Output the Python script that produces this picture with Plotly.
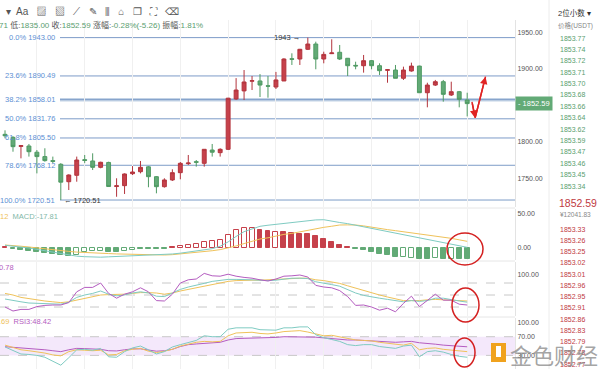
import plotly.graph_objects as go

W, H = 600, 369
FONT = "Liberation Sans, Noto Sans CJK SC, sans-serif"

# ---------------- data ----------------
idx = list(range(59))
opens = [1810.5,1806.4,1794,1794.5,1786,1780,1774.5,1769.5,1745.6,1754.4,1775.8,1774,1765.3,1772,1739,1740.2,1756.6,1759.3,1766,1752.5,
         1738.8,1748,1758,1770.3,1773,1770.8,1789,1785.4,1790,1859,1870,1883.3,1883.6,1877,1875.3,1883.6,1914,1913.7,1927,1934.2,
         1913.7,1921,1922.9,1914.7,1905,1904.5,1911.4,1904.5,1898.2,1898.6,1887.3,1897.3,1904,1867.5,1878,1882.6,1864.4,1868.9,1857.5]
highs = [1816,1808,1795.9,1797.3,1789,1791.4,1780,1771,1755.7,1780,1782.2,1784.5,1773,1773,1750.3,1757,1767,1774,1767,1753.4,
         1750.3,1762.6,1772.6,1782.2,1775.3,1790,1797.3,1791.4,1860.5,1887.5,1898.6,1890.4,1893,1890.4,1896,1914.7,1921.5,1927.5,1943,1937.4,
         1923.7,1940.7,1932.9,1915,1910,1919.2,1912.3,1907.8,1900,1905.5,1903.2,1908.7,1904.5,1881.2,1885,1885,1882.6,1869.9,1867.5]
lows = [1805,1786.7,1777.6,1780,1757,1773,1771,1720.51,1734.2,1745.6,1771,1761.6,1764,1738.8,1725,1728.8,1754.8,1757,1738,1729.7,
        1737.5,1746.6,1748.9,1768.5,1766.2,1766.2,1780,1780,1789,1857.5,1857.5,1871.2,1861.6,1860.7,1872.6,1883.6,1905.5,1905.5,1926,1899.6,
        1907.8,1920.5,1912.3,1890.4,1899.6,1895,1899.6,1891.8,1881.2,1887.3,1885,1896.3,1867.1,1847.5,1876.7,1855.2,1863,1847.5,1835]
closes = [1808.5,1793.6,1795,1786.7,1780,1774.5,1773.5,1745,1754.8,1775.3,1774.8,1765.3,1772.2,1739,1740,1756.2,1758.9,1765.3,1752.5,1738.8,
          1748,1758,1770.8,1771.2,1772.3,1790,1786,1790,1860,1871.2,1882.2,1884,1878,1876.5,1885,1913.7,1913.4,1927,1934.2,1913.7,
          1920,1922,1913.7,1904.5,1904.2,1911.4,1904.5,1897.7,1899,1887.3,1898.6,1904,1867.5,1878,1882.6,1865.3,1868.9,1858.5,1852.59]

fib_ratios = ["0.0%", "23.6%", "38.2%", "50.0%", "61.8%", "78.6%", "100.0%"]
fib_values = [1943.00, 1890.49, 1858.01, 1831.76, 1805.50, 1768.12, 1720.51]
last_price = 1852.59
main_ticks = [1750, 1800, 1900, 1950]

macd_hist = [2,-1,-3,-4,-6,-8,-9,-11,-12,-10,-6,-5,-5,-5.5,-6,-5,-3,-2,-1.5,-1.5,
             -1,1,3,5,6,9,11,12,19,26,29,29,27,25,24,23,22,21,21,18,
             13,9,5,1.5,-2,-3,-6,-9,-11,-13,-13,-14,-16,-16,-15,-16,-16,-16,-16]
macd_hollow = [0,0,0,0,0,0,0,0,0,1,1,1,1,0,0,1,1,0,0,0,
               0,0,1,1,1,1,1,1,1,1,1,1,0,0,1,0,0,0,0,0,
               0,0,0,0,0,0,0,0,0,0,1,1,0,0,1,0,1,0,0]
dif = [4,3,1,0,-2,-4,-6.5,-9,-10.5,-12,-12.8,-13.3,-13.5,-13,-12.6,-12.2,-11.5,-11,-10.7,-10.2,
       -9.8,-8.8,-7.6,-6.2,-4.6,-3,-1,2.6,9,17,24,28,31.9,33.5,34.8,36.2,37.2,39,40.5,41.3,
       41.6,39,37.5,35.8,33.5,31.5,29,26.5,24.5,22,20,17.8,15.5,13,10.8,8.5,5.9,3.5,1]
dea = [4.4,4,2.6,1.5,0,-1.2,-2.5,-3.8,-5,-6,-6.8,-7.3,-7.8,-8.2,-8.7,-9,-9.3,-9.8,-10,-10.2,
       -10.3,-9.8,-8.8,-7.8,-6.8,-5.5,-4,-2.4,0,3,6.5,9.5,13.2,15,18,20,21.5,24,26.5,29,
       30.4,32,33.8,34,33.8,32.5,30.4,28.8,27,25.5,24,22,21,19.5,18.1,16.5,14.2,12,9.8]
macd_ticks = [0, 50]

kdj_k = [40,36,33,30,29,29,27,27,32,44,50,54,60,52,48,50,55,58,55,47,
         46,55,64,70,74,79,84,86,89,89,89,88,87,86,87,89,92,92,91,83,
         80,76,72,63,55,49,45,42,39,36,33,36,34,36,42,42,38,35,32]
kdj_d = [54,50,44,41,37,35,33,31,33,37,41,45,50,51,51,52,54,56,56,55,
         52,55,60,64,68,72,77,81,84,86,87,87,87,88,89,90,92,92,92,88,
         86,82,79,73,67,61,55,50,45,40,36,36,36,38,39,38,37,36,35]
kdj_j = [20,10,14,14,21,24,25,25,31,58,69,69,80,54,42,52,58,68,58,36,
         35,52,80,88,90,104,98,97,102,97,94,92,88,85,90,97,98,100,95,74,
         70,68,61,46,24,25,20,12,17,8,29,47,21,36,52,37,37,27,25]
kdj_levels = [80, 50, 20]

rsi1 = [48,40,33,32,30,26,18,9,25,42,43,41,45,27,26,38,46,50,42,33,
        38,48,53,58,62,72,70,70,86,89,89,89,85,84,84,89,89,91,91,74,
        68,64,60,53,51,53,53,49,47,45,50,52,27,38,40,37,32,28,26]
rsi2 = [52,47,42,40,38,35,31,29,38,42,41,40,41,31,32,40,43,45,39,36,
        39,43,50,54,58,60,59,60,72,78,79.5,79.5,77,76,78,81,82,83,80,76,
        72,73,70,66,63,62,61,58,56,53,52,56,42,45,46,43,41,39.5,38]
rsi3 = [48.6,47.5,46,45,43.5,42,40,38,42,45,44.5,44,43,40,39.5,42,44,44,42,39,
        40,43,49,53,54.5,56,57,58,63,66,66.6,67,67,68,68.5,70,70,70,69.5,69,
        67.5,66,63.5,63,63,62,61,60,59,58,59,60,57,56,54,52,51,50,48.42]
rsi_levels = [70, 30]
rsi_ticks = [30, 70, 100]

book_ask = ["1853.77","1853.74","1853.72","1853.71","1853.70","1853.68","1853.66",
            "1853.64","1853.62","1853.59","1853.47","1853.46","1853.45","1853.34"]
book_bid = ["1853.33","1853.26","1853.25","1853.02","1853.01","1852.96","1852.95",
            "1852.91","1852.86","1852.83","1852.79","1852.78","1852.77"]

# red hand-drawn arrow (index, price)
arrow_pts = [(58.6, 1855.0), (59.0, 1833.0), (60.3, 1889.5)]

# ---------------- colours ----------------
RED = "#c6414b"; RED_L = "#b3343d"
GREEN = "#62aa76"; GREEN_L = "#4f9a63"
TEAL = "#7fcbc2"; YEL = "#efc25a"; PURP = "#b45cc0"
FIB = "#7d9cc8"; FIBTXT = "#5c8fd3"
GRID = "#f0f0f0"; SEP = "#e6e6e6"

def py(px):
    return 1 - px / H

def pxx(px):
    return px / W

XR = [-0.63, 64.0]
XDOM = [0, 515 / W]

fig = go.Figure()

# main candles
fig.add_trace(go.Candlestick(
    x=idx, open=opens, high=highs, low=lows, close=closes,
    increasing=dict(fillcolor=RED, line=dict(color=RED_L, width=1)),
    decreasing=dict(fillcolor=GREEN, line=dict(color=GREEN_L, width=1)),
    whiskerwidth=0, xaxis="x", yaxis="y", showlegend=False, hoverinfo="skip"))

# MACD
fills = []
lines = []
for v, h in zip(macd_hist, macd_hollow):
    c = RED if v >= 0 else GREEN
    lines.append(c)
    fills.append("white" if h else c)
fig.add_trace(go.Bar(x=idx, y=macd_hist, marker=dict(color=fills, line=dict(color=lines, width=1)),
                     width=0.62, xaxis="x2", yaxis="y2", showlegend=False))
fig.add_trace(go.Scatter(x=idx, y=dea, mode="lines", line=dict(color=YEL, width=1), xaxis="x2", yaxis="y2", showlegend=False))
fig.add_trace(go.Scatter(x=idx, y=dif, mode="lines", line=dict(color=TEAL, width=1), xaxis="x2", yaxis="y2", showlegend=False))

# KDJ
fig.add_trace(go.Scatter(x=idx, y=kdj_d, mode="lines", line=dict(color=YEL, width=1), xaxis="x3", yaxis="y3", showlegend=False))
fig.add_trace(go.Scatter(x=idx, y=kdj_k, mode="lines", line=dict(color=TEAL, width=1), xaxis="x3", yaxis="y3", showlegend=False))
fig.add_trace(go.Scatter(x=idx, y=kdj_j, mode="lines", line=dict(color=PURP, width=1), xaxis="x3", yaxis="y3", showlegend=False))

# RSI
fig.add_trace(go.Scatter(x=idx, y=rsi3, mode="lines", line=dict(color=PURP, width=1), xaxis="x4", yaxis="y4", showlegend=False))
fig.add_trace(go.Scatter(x=idx, y=rsi2, mode="lines", line=dict(color=YEL, width=1), xaxis="x4", yaxis="y4", showlegend=False))
fig.add_trace(go.Scatter(x=idx, y=rsi1, mode="lines", line=dict(color=TEAL, width=1), xaxis="x4", yaxis="y4", showlegend=False))

# red arrow line
fig.add_trace(go.Scatter(x=[p[0] for p in arrow_pts], y=[p[1] for p in arrow_pts], mode="lines",
                         line=dict(color="#e02424", width=1.5), xaxis="x", yaxis="y", showlegend=False))

grid_vals = list(range(4, 59, 6))
xcommon = dict(range=XR, domain=XDOM, showticklabels=False, showgrid=True, gridcolor=GRID,
               tickvals=grid_vals, zeroline=False, showline=False, fixedrange=True)
ycommon = dict(side="right", showgrid=False, zeroline=False, tickfont=dict(size=7, color="#555", family=FONT),
               ticks="", tickformat=".2f", showline=True, linecolor="#e3e3e3", linewidth=1)

layout = dict(
    width=W, height=H, margin=dict(l=0, r=0, t=0, b=0),
    paper_bgcolor="white", plot_bgcolor="white", font=dict(family=FONT),
    showlegend=False, bargap=0,
    xaxis=dict(**xcommon, anchor="y", rangeslider=dict(visible=False)),
    xaxis2=dict(**xcommon, anchor="y2"),
    xaxis3=dict(**xcommon, anchor="y3"),
    xaxis4=dict(**xcommon, anchor="y4"),
    yaxis=dict(**ycommon, anchor="x", domain=[py(207), py(20)], range=[1710.96, 1967.12], tickvals=main_ticks),
    yaxis2=dict(**ycommon, anchor="x2", domain=[py(260), py(209)], range=[-17.65, 57.35], tickvals=macd_ticks),
    yaxis3=dict(**ycommon, anchor="x3", domain=[py(316), py(262)], range=[-2.5, 132.5], tickvals=[100]),
    yaxis4=dict(**ycommon, anchor="x4", domain=[py(369), py(318)], range=[0.86, 110.06], tickvals=rsi_ticks),
)
fig.update_layout(**layout)

shapes = []
annots = []

# fib lines and labels
for r, v in zip(fib_ratios, fib_values):
    if r == "38.2%":
        shapes.append(dict(type="line", xref="x", yref="y", x0=6.9, x1=64, y0=v, y1=v,
                           line=dict(color="#c3d3e6", width=3.5), layer="below"))
    shapes.append(dict(type="line", xref="x", yref="y", x0=6.9, x1=64, y0=v, y1=v,
                       line=dict(color=FIB, width=1), layer="below"))
    annots.append(dict(xref="x", yref="y", x=6.5, y=v, text=f"{r} {v:.2f}", showarrow=False,
                       xanchor="right", yanchor="middle", font=dict(size=7.5, color=FIBTXT)))

annots.append(dict(xref="x", yref="y", x=37.3, y=1943.0, text="1943 →", showarrow=False,
                   xanchor="right", yanchor="middle", font=dict(size=7.5, color="#333")))
annots.append(dict(xref="x", yref="y", x=7.1, y=1720.51, text="← 1720.51", showarrow=False,
                   xanchor="left", yanchor="middle", font=dict(size=7.5, color="#333")))

# current price label
annots.append(dict(xref="paper", yref="y", x=pxx(515), y=last_price, text="- 1852.59", showarrow=False,
                   xanchor="left", yanchor="middle", bgcolor=GREEN, borderpad=2,
                   font=dict(size=7.5, color="white")))

# arrow heads
annots.append(dict(xref="x", yref="y", axref="x", ayref="y", x=arrow_pts[1][0], y=arrow_pts[1][1],
                   ax=arrow_pts[0][0], ay=arrow_pts[0][1], showarrow=True, arrowhead=2, arrowsize=1,
                   arrowwidth=1.5, arrowcolor="#e02424", text=""))
annots.append(dict(xref="x", yref="y", axref="x", ayref="y", x=arrow_pts[2][0], y=arrow_pts[2][1],
                   ax=arrow_pts[1][0], ay=arrow_pts[1][1], showarrow=True, arrowhead=2, arrowsize=1,
                   arrowwidth=1.5, arrowcolor="#e02424", text=""))

# panel separators
for ypx in [208, 261, 317]:
    shapes.append(dict(type="line", xref="paper", yref="paper", x0=0, x1=pxx(515), y0=py(ypx), y1=py(ypx),
                       line=dict(color=SEP, width=1)))

# KDJ dashed levels
for v in kdj_levels:
    shapes.append(dict(type="line", xref="paper", yref="y3", x0=0, x1=pxx(515), y0=v, y1=v,
                       line=dict(color="#c8c8c8", width=1, dash="dash"), layer="below"))
# RSI band & levels
shapes.append(dict(type="rect", xref="paper", yref="y4", x0=0, x1=pxx(515), y0=rsi_levels[1], y1=rsi_levels[0],
                   fillcolor="#f4e8fb", line=dict(width=0), layer="below"))
for v in rsi_levels:
    shapes.append(dict(type="line", xref="paper", yref="y4", x0=0, x1=pxx(515), y0=v, y1=v,
                       line=dict(color="#c8c8c8", width=1, dash="dash"), layer="below"))

# red circles
for (x0, x1, y0, y1) in [(447, 483, 233, 265), (452, 479, 288, 322), (454, 475, 338, 367)]:
    shapes.append(dict(type="circle", xref="paper", yref="paper", x0=pxx(x0), x1=pxx(x1), y0=py(y1), y1=py(y0),
                       line=dict(color="#d42020", width=1.5)))

# header
lab = "#555"; val = "#5a9e6f"
hdr = (f"<span style='color:{val}'>71</span> <span style='color:{lab}'>低:</span><span style='color:{val}'>1835.00</span> "
       f"<span style='color:{lab}'>收:</span><span style='color:{val}'>1852.59</span> "
       f"<span style='color:{lab}'>涨幅:</span><span style='color:{val}'>-0.28%(-5.26)</span> "
       f"<span style='color:{lab}'>振幅:</span><span style='color:{val}'>1.81%</span>")
annots.append(dict(xref="paper", yref="paper", x=pxx(-3), y=py(25), text=hdr, showarrow=False,
                   xanchor="left", yanchor="middle", font=dict(size=8)))
annots.append(dict(xref="paper", yref="paper", x=pxx(4), y=py(12), text="▾  Aa   ▨   ▧   ⟋   ✎   ⫼   ⌂   ❐   ⛶   ⌫",
                   showarrow=False, xanchor="left", yanchor="middle", font=dict(size=10, color="#555")))

# indicator labels
annots.append(dict(xref="paper", yref="paper", x=pxx(-2), y=py(216),
                   text=f"<span style='color:{YEL}'>12</span>  <span style='color:#7fb8a8'>MACD:-17.81</span>",
                   showarrow=False, xanchor="left", yanchor="middle", font=dict(size=7.5)))
annots.append(dict(xref="paper", yref="paper", x=pxx(-3), y=py(267),
                   text=f"<span style='color:{PURP}'>0.78</span>", showarrow=False, xanchor="left",
                   yanchor="middle", font=dict(size=7.5)))
annots.append(dict(xref="paper", yref="paper", x=pxx(-3), y=py(321),
                   text=f"<span style='color:{YEL}'>.69</span>  <span style='color:{PURP}'>RSI3:48.42</span>",
                   showarrow=False, xanchor="left", yanchor="middle", font=dict(size=7.5)))

# order book panel
shapes.append(dict(type="line", xref="paper", yref="paper", x0=pxx(549), x1=pxx(549), y0=0, y1=1,
                   line=dict(color="#ececec", width=1)))
annots.append(dict(xref="paper", yref="paper", x=pxx(556), y=py(13), text="2位小数 ▾", showarrow=False,
                   xanchor="left", yanchor="middle", font=dict(size=7.5, color="#333")))
annots.append(dict(xref="paper", yref="paper", x=pxx(556), y=py(26), text="价格(USDT)", showarrow=False,
                   xanchor="left", yanchor="middle", font=dict(size=6.5, color="#888")))
for k, t in enumerate(book_ask):
    annots.append(dict(xref="paper", yref="paper", x=pxx(558), y=py(38 + k * 11.39), text=t, showarrow=False,
                       xanchor="left", yanchor="middle", font=dict(size=7, color="#5a9e6f")))
annots.append(dict(xref="paper", yref="paper", x=pxx(557), y=py(203), text="1852.59", showarrow=False,
                   xanchor="left", yanchor="middle", font=dict(size=10.5, color="#c0393f")))
annots.append(dict(xref="paper", yref="paper", x=pxx(558), y=py(214), text="¥12041.83", showarrow=False,
                   xanchor="left", yanchor="middle", font=dict(size=6.5, color="#888")))
for k, t in enumerate(book_bid):
    annots.append(dict(xref="paper", yref="paper", x=pxx(558), y=py(229 + k * 11.25), text=t, showarrow=False,
                       xanchor="left", yanchor="middle", font=dict(size=7, color="#c0393f")))

# watermark
shapes.append(dict(type="rect", xref="paper", yref="paper", x0=pxx(491), x1=pxx(506), y0=py(362), y1=py(343),
                   fillcolor="#f0a21e", line=dict(width=0)))
shapes.append(dict(type="rect", xref="paper", yref="paper", x0=pxx(496), x1=pxx(501), y0=py(357), y1=py(346),
                   fillcolor="white", line=dict(width=0)))
annots.append(dict(xref="paper", yref="paper", x=pxx(508), y=py(354), text="金色财经", showarrow=False,
                   xanchor="left", yanchor="middle", font=dict(size=22, color="rgba(140,140,140,0.8)",
                                                               family="Noto Sans CJK SC")))

fig.update_layout(shapes=shapes, annotations=annots)
fig.write_html("out.html", include_plotlyjs=True, config=dict(displayModeBar=False),
               post_script="document.body.style.margin='0px';document.body.style.overflow='hidden';")
